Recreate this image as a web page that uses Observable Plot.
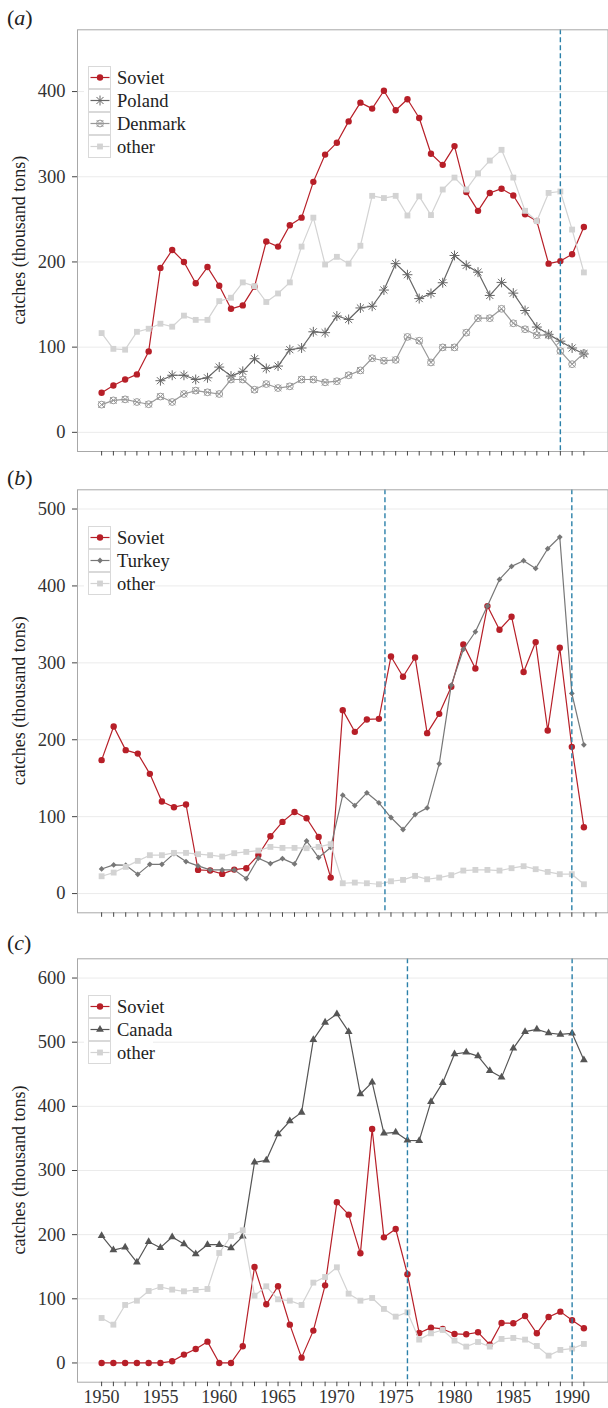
<!DOCTYPE html>
<html><head><meta charset="utf-8">
<script src="https://cdn.jsdelivr.net/npm/d3@7"></script>
<script src="https://cdn.jsdelivr.net/npm/@observablehq/plot@0.6"></script>
<style>
body{margin:0;background:#fff;}
#wrap{position:relative;width:608px;height:1408px;overflow:hidden;font-family:"Liberation Serif",serif;}
#wrap svg{position:absolute;left:0;}
#wrap svg, #wrap svg text, #wrap svg tspan{font-family:"Liberation Serif",serif !important;}
</style></head><body><div id="wrap"></div>
<script>
// ---------- data ----------
const years = [1950,1951,1952,1953,1954,1955,1956,1957,1958,1959,1960,1961,1962,1963,1964,1965,1966,1967,1968,1969,1970,1971,1972,1973,1974,1975,1976,1977,1978,1979,1980,1981,1982,1983,1984,1985,1986,1987,1988,1989,1990,1991];
const yearsB = [1950,1951,1952,1953,1954,1955,1956,1957,1958,1959,1960,1961,1962,1963,1964,1965,1966,1967,1968,1969,1970,1971,1972,1973,1974,1975,1976,1977,1978,1979,1980,1981,1982,1983,1984,1985,1986,1987,1988,1989,1990];
const labelYears = [1950,1955,1960,1965,1970,1975,1980,1985,1990];

// panel (a)
const sovietA = [46.5,55,62,68,95,193,214,200,175,194,172,145,149,171,224,218,243,252,294,326,340,365,387,380,401,378,391,369,327,314,336,282,260,281,286,278,256,248,198,201,209,241];
const polandA = [null,null,null,null,null,60.6,67,67,62,64,76.6,66,71.6,86.4,75,77.8,97,99,118,117,136.5,132.5,146,148,167,198,185,157,163,175.6,207.6,196,188,160.7,176,163.4,143,123.6,115,107,99,92];
const denmarkA = [32.5,37.5,38.7,35.6,33,42,35.6,45,49,47,45,62,62,50,56.7,52,54,62,62,58.7,60,67,72.7,87,84,85,112,107.5,82,99.7,99.7,117,134,134,145,128,121,114,114,95.4,80,93];
const otherA = [116.5,98,97,118,121.6,127.5,124,137,132,132,154,158,176,171.6,153,163,176,218,252,197,206,198,219,277.6,275,277.6,254.5,277,255,285,299,285,304,319,331.6,299,260,248,281,282.7,238,187.7];
const rulesA = [1989];
const ticksYA = [0,100,200,300,400];

// panel (b)
const sovietB = [173.5,217.3,186.5,182,155.7,119.7,112.3,115.8,30.8,30,25.6,31.2,33,50,74.6,93.2,106,98,73.7,20.8,238.5,210.3,226.4,227.2,308.3,281.9,307,208.6,233.7,268.9,324,292.7,373.8,343,360,288,327,212,319.6,190.8,86.3];
const turkeyB = [32,37.3,36.9,25,38,38,52,41.6,36,30.8,30.8,30.8,19.5,46,39,45.5,38.6,68.5,46.8,60,128,114.5,131,118,98.9,83.3,102.8,111.4,168.7,271,317.4,340.4,373.8,408.5,425.4,432.8,422.8,448.4,463.6,260.2,193.4];
const otherB = [22.5,27.3,34.7,42.5,49.9,49.9,52.9,52.9,51.2,49.9,48.1,52.5,54.2,55.9,60.7,59.4,59.4,59,60.7,64.2,13.4,14.3,13.4,12.1,16,17.8,23,18.6,20.8,23.9,29.9,30.8,30.8,29.9,33,35.6,31.7,28.2,25.2,25.2,12.1];
const rulesB = [1973.5,1989];
const ticksYB = [0,100,200,300,400,500];

// panel (c)
const sovietC = [0,0,0,0,0,0,2.6,13,21.8,33.2,0,0,26,149.6,91.4,119.5,59.7,8.3,50.4,121,250.4,231.2,170.9,364.7,195.8,208.8,138.2,46.8,55,53,45.2,44.7,47.8,28.6,62.3,61.8,73.2,46.2,71.7,80,66.5,54];
const canadaC = [198.4,176,180.3,156.9,189,179.7,196.4,185.5,169.9,184.4,184.4,179.2,197.4,312.7,315.8,356.9,377.1,390.6,503.9,530.9,543.9,516.4,419.2,437.4,357.9,359.5,347,346.5,407.3,436.9,481.6,484.2,478.4,455.6,445.2,490.4,516.4,520,514.3,512.2,513.8,472.2];
const otherC = [70.1,59.7,90.4,97.1,112.2,118.4,114.3,111.7,113.8,115.3,171.4,197.9,206.8,104.9,119.5,99.2,97.1,90.4,125.2,134,149.1,108,97.1,101.3,84.2,72.2,79,36.4,46.2,51.4,34.8,25.5,32.7,25.5,37.4,39,36.4,26.5,11.4,20.3,22.3,29.6];
const rulesC = [1976,1990];
const ticksYC = [0,100,200,300,400,500,600];

// ---------- styles ----------
const C = {soviet:"#b71f28", poland:"#666666", denmark:"#999999", other:"#d3d3d3", turkey:"#777777", canada:"#555555"};
const symSoviet = [{symbol:"circle", r:3.2, fill:C.soviet}];
const symOther = [{symbol:"square", r:3.3, fill:C.other}];
const symPoland = [{symbol:"plus", r:3.3, stroke:C.poland}, {symbol:"times", r:3.3, stroke:C.poland}];
const symDenmark = [{symbol:"circle", r:3.4, stroke:C.denmark}, {symbol:"times", r:3.1, stroke:C.denmark}];
const symTurkey = [{symbol:"diamond2", r:2.6, fill:C.turkey}];
const symCanada = [{symbol:"triangle", r:2.9, fill:C.canada}];

const d3sym = {circle:d3.symbolCircle, square:d3.symbolSquare, plus:d3.symbolPlus, times:d3.symbolTimes, diamond2:d3.symbolDiamond2, triangle:d3.symbolTriangle};

const wrap = document.getElementById("wrap");
const FONT = "Liberation Serif, serif";
const FS = 18.5;

function buildPanel(cfg) {
  const marks = [Plot.gridY(cfg.yTicks, {stroke:"#ebebeb", strokeOpacity:1, strokeWidth:1})];
  for (const s of cfg.series) {
    const rows = s.years.map((year, i) => ({year, v: s.values[i]}));
    marks.push(Plot.line(rows, {x:"year", y:"v", stroke:s.color, strokeWidth:1.2}));
    for (const sym of s.symbols) {
      marks.push(Plot.dot(rows.filter(d => d.v != null), {x:"year", y:"v", symbol:sym.symbol, r:sym.r, fill:sym.fill || "none", stroke:sym.stroke || "none", strokeWidth:1}));
    }
  }
  marks.push(Plot.ruleX(cfg.rules, {stroke:"#2b80a9", strokeWidth:1.4, strokeDasharray:"5,3"}));
  marks.push(Plot.frame({stroke:"#a8a8a8"}));
  marks.push(Plot.axisY(cfg.yTicks, {tickSize:5, tickPadding:7, fontSize:FS, label:null, stroke:"#444"}));
  marks.push(Plot.axisX(cfg.xTicks, {tickSize:4.5, tickPadding:4, fontSize:18, label:null, stroke:"#444",
    tickFormat: d => (cfg.xLabels && labelYears.includes(d)) ? String(d) : ""}));
  const svg = Plot.plot({
    width:608, height:cfg.height,
    marginLeft:77, marginRight:0.5, marginTop:cfg.mt, marginBottom:cfg.mb,
    x:{domain:cfg.xDomain, label:null},
    y:{domain:cfg.yDomain, label:null},
    style:{fontSize:FS + "px", color:"#333", background:"#fff", overflow:"visible"},
    marks
  });
  svg.style.top = cfg.top + "px";
  wrap.appendChild(svg);
  const g = d3.select(svg).append("g").attr("text-anchor", "start");
  // panel label
  const lab = g.append("text").attr("x", 7).attr("y", cfg.labelY).attr("font-size", 22).attr("fill", "#222").attr("text-anchor", "start");
  lab.append("tspan").text("(");
  lab.append("tspan").attr("font-style", "italic").text(cfg.label);
  lab.append("tspan").text(")");
  // y title
  const cy = (cfg.mt + cfg.height - cfg.mb) / 2;
  g.append("text").attr("transform", `translate(19,${cy}) rotate(-90)`).attr("text-anchor", "middle")
    .attr("dy", "0.35em").attr("font-size", 18).attr("fill", "#222").text("catches (thousand tons)");
  // legend
  const lt = cfg.mt + 36.7, rh = 23;
  const n = cfg.series.length;
  g.append("rect").attr("x", 84).attr("y", lt - 3).attr("width", cfg.legendW).attr("height", n * rh + 6).attr("fill", "#fff");
  cfg.series.forEach((s, i) => {
    const y0 = lt + i * rh, cyy = y0 + rh / 2;
    g.append("rect").attr("x", 88.5).attr("y", y0 + 0.5).attr("width", rh - 1).attr("height", rh - 1)
      .attr("fill", "#fff").attr("stroke", "#d9d9d9");
    g.append("line").attr("x1", 90.5).attr("x2", 109.5).attr("y1", cyy).attr("y2", cyy).attr("stroke", s.color).attr("stroke-width", 1.2);
    for (const sym of s.symbols) {
      g.append("path").attr("transform", `translate(100,${cyy})`)
        .attr("d", d3.symbol(d3sym[sym.symbol], Math.PI * sym.r * sym.r)())
        .attr("fill", sym.fill || "none").attr("stroke", sym.stroke || "none").attr("stroke-width", 1);
    }
    g.append("text").attr("x", 117).attr("y", cyy).attr("dy", "0.33em").attr("text-anchor", "start")
      .attr("font-size", FS).attr("fill", "#222").text(s.name);
  });
  svg.setAttribute("font-family", FONT);
  d3.select(svg).selectAll("text, tspan").each(function() {
    this.setAttribute("font-family", FONT);
    this.style.setProperty("font-family", FONT, "important");
    this.style.setProperty("font-variant", "normal");
  });
}

buildPanel({
  top:0, height:460, mt:29.3, mb:9, label:"a", labelY:25, legendW:76,
  xDomain:[1947.95, 1993.05], yDomain:[-22.5, 472.5], yTicks:ticksYA, xTicks:years, xLabels:false, rules:rulesA,
  series:[
    {name:"Soviet", years, values:sovietA, color:C.soviet, symbols:symSoviet},
    {name:"Poland", years, values:polandA, color:C.poland, symbols:symPoland},
    {name:"Denmark", years, values:denmarkA, color:C.denmark, symbols:symDenmark},
    {name:"other", years, values:otherA, color:C.other, symbols:symOther}
  ]
});
buildPanel({
  top:460, height:460, mt:29.3, mb:7.7, label:"b", labelY:25, legendW:71,
  xDomain:[1948, 1992], yDomain:[-25, 525], yTicks:ticksYB, xTicks:years, xLabels:false, rules:rulesB,
  series:[
    {name:"Soviet", years:yearsB, values:sovietB, color:C.soviet, symbols:symSoviet},
    {name:"Turkey", years:yearsB, values:turkeyB, color:C.turkey, symbols:symTurkey},
    {name:"other", years:yearsB, values:otherB, color:C.other, symbols:symOther}
  ]
});
buildPanel({
  top:920, height:488, mt:38.3, mb:26.3, label:"c", labelY:30, legendW:69,
  xDomain:[1947.95, 1993.05], yDomain:[-30, 630], yTicks:ticksYC, xTicks:years, xLabels:true, rules:rulesC,
  series:[
    {name:"Soviet", years, values:sovietC, color:C.soviet, symbols:symSoviet},
    {name:"Canada", years, values:canadaC, color:C.canada, symbols:symCanada},
    {name:"other", years, values:otherC, color:C.other, symbols:symOther}
  ]
});
</script></body></html>
